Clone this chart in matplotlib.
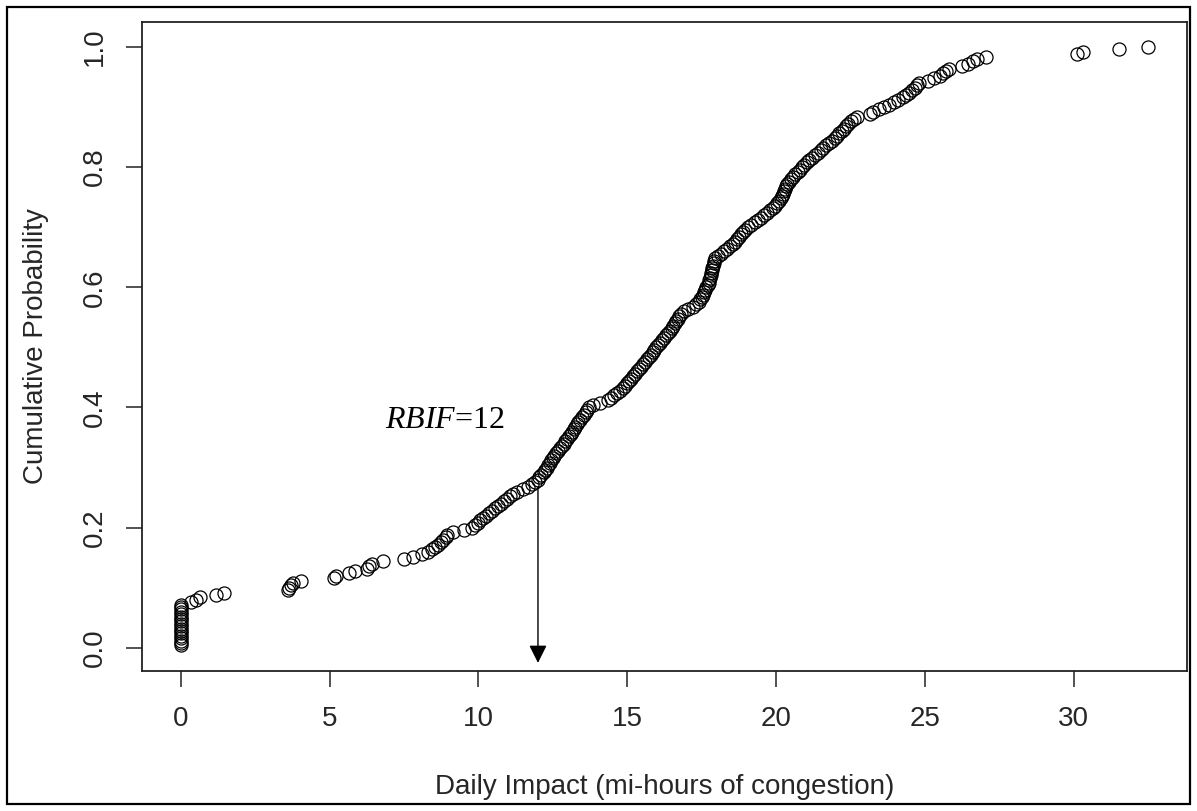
import matplotlib
matplotlib.use("Agg")
import matplotlib.pyplot as plt
from matplotlib.patches import Rectangle
import numpy as np

# Daily impact values (mi-hours of congestion)
zeros = [0.0] * 18
impact_low = [0.35, 0.5, 0.65, 1.2, 1.45,
              3.6, 3.64, 3.7, 3.78, 4.05,
              5.15, 5.2, 5.65, 5.85,
              6.25, 6.32, 6.42, 6.8, 7.5, 7.8, 8.1,
              8.3, 8.45, 8.55, 8.65, 8.75, 8.8, 8.9, 8.95,
              9.16, 9.53]
impact_mid1 = [9.8, 9.9, 10.0, 10.05, 10.15, 10.25, 10.35, 10.45, 10.55, 10.65,
               10.75, 10.85, 10.95, 11.05, 11.15,
               11.3, 11.5, 11.65, 11.8, 11.9, 12.0,
               12.05, 12.1, 12.2, 12.25, 12.3,
               12.35, 12.4, 12.45, 12.5, 12.55, 12.62, 12.68, 12.74, 12.8, 12.86,
               12.92, 12.98, 13.04, 13.1,
               13.15, 13.2, 13.25, 13.3, 13.35, 13.42, 13.48, 13.54, 13.6, 13.65, 13.7,
               13.85, 14.1, 14.36]
impact_mid2 = [14.45, 14.55, 14.65, 14.75, 14.85, 14.92, 15.0,
               15.07, 15.13, 15.2, 15.27, 15.33, 15.4,
               15.47, 15.53, 15.6, 15.67, 15.73, 15.8, 15.85, 15.9,
               15.97, 16.03, 16.1, 16.17, 16.23, 16.3, 16.37, 16.43, 16.5,
               16.55, 16.6, 16.65, 16.7, 16.75, 16.8,
               16.9, 17.05, 17.2, 17.3, 17.4,
               17.45, 17.5, 17.54, 17.58, 17.62, 17.66, 17.7, 17.73,
               17.76, 17.78, 17.8, 17.82, 17.84, 17.86, 17.88, 17.9, 17.92, 17.95]
impact_high = [18.05, 18.15, 18.25, 18.35, 18.45,
               18.55, 18.62, 18.7, 18.76, 18.82, 18.88, 18.95, 19.05,
               19.15, 19.3, 19.4, 19.5,
               19.6, 19.7, 19.8, 19.88, 19.95, 20.02, 20.1,
               20.15, 20.18, 20.22, 20.26, 20.3, 20.34, 20.38, 20.42,
               20.5, 20.58, 20.65, 20.72, 20.8, 20.88, 20.95, 21.02,
               21.1, 21.2, 21.3, 21.4, 21.5, 21.58,
               21.68, 21.78, 21.88, 21.97, 22.05, 22.12,
               22.2, 22.28, 22.35, 22.42, 22.5, 22.6, 22.7,
               23.15, 23.25, 23.45, 23.62,
               23.8, 23.95, 24.1, 24.25,
               24.35, 24.45, 24.55, 24.65, 24.72, 24.8,
               25.1, 25.3, 25.5, 25.62, 25.72, 25.8,
               26.25, 26.45, 26.6, 26.75, 27.05,
               30.1, 30.3, 31.5, 32.5]

x_ticks = [0, 5, 10, 15, 20, 25, 30]
y_ticks = [0.0, 0.2, 0.4, 0.6, 0.8, 1.0]
y_tick_labels = ["0.0", "0.2", "0.4", "0.6", "0.8", "1.0"]
rbif = 12

values = np.sort(np.array(zeros + impact_low + impact_mid1 + impact_mid2 + impact_high))
n = len(values)
cum_prob = np.arange(1, n + 1) / n

plt.rcParams['mathtext.fontset'] = 'custom'
plt.rcParams['mathtext.rm'] = 'Liberation Serif'
plt.rcParams['mathtext.it'] = 'Liberation Serif:italic'

W, H = 1197, 811
fig = plt.figure(figsize=(W / 100, H / 100), dpi=100)
fig.patch.set_facecolor('white')
L, R, T, B = 142, 1187, 22, 671
ax = fig.add_axes([L / W, 1 - B / H, (R - L) / W, (B - T) / H])

ax.plot(values, cum_prob, linestyle='none', marker='o', markersize=9.4,
        markerfacecolor='none', markeredgecolor='black', markeredgewidth=0.9)

lo, hi = values.min(), values.max()
pad = 0.04 * (hi - lo)
ax.set_xlim(lo - pad, hi + pad)
ax.set_ylim(-0.0385, 1.0415)

ax.set_xticks(x_ticks)
ax.set_xticklabels([str(t) for t in x_ticks])
ax.set_yticks(y_ticks)
ax.set_yticklabels(y_tick_labels, rotation=90, va='center')

lab_color = '#262626'
for lbl in ax.get_xticklabels() + ax.get_yticklabels():
    lbl.set_fontfamily('Liberation Sans')
    lbl.set_fontsize(20)
    lbl.set_color(lab_color)
ax.tick_params(axis='both', direction='out', length=11.5, width=1.2, color='#333333')
ax.tick_params(axis='x', pad=14)
ax.tick_params(axis='y', pad=13)
for s in ax.spines.values():
    s.set_linewidth(1.3)
    s.set_color('#222222')

ax.set_xlabel('Daily Impact (mi-hours of congestion)', fontfamily='Liberation Sans',
              fontsize=20, color=lab_color, labelpad=30)
ax.set_ylabel('Cumulative Probability', fontfamily='Liberation Sans',
              fontsize=20, color=lab_color, labelpad=24)

ax.text(6.86, 0.379, r'$\mathit{RBIF}$=' + str(rbif), fontfamily='Liberation Serif',
        fontsize=23, color='black', ha='left', va='center')

ax.annotate('', xy=(rbif, -0.025), xytext=(rbif, 0.268),
            arrowprops=dict(arrowstyle='-|>', color='black', lw=1.0,
                            mutation_scale=27, shrinkA=0, shrinkB=0))

fig.patches.append(Rectangle((7 / W, 1 - 804 / H), (1190 - 7) / W, (804 - 7) / H,
                             transform=fig.transFigure, fill=False,
                             edgecolor='black', linewidth=1.6))

fig.savefig('out.png', dpi=100, facecolor='white')
